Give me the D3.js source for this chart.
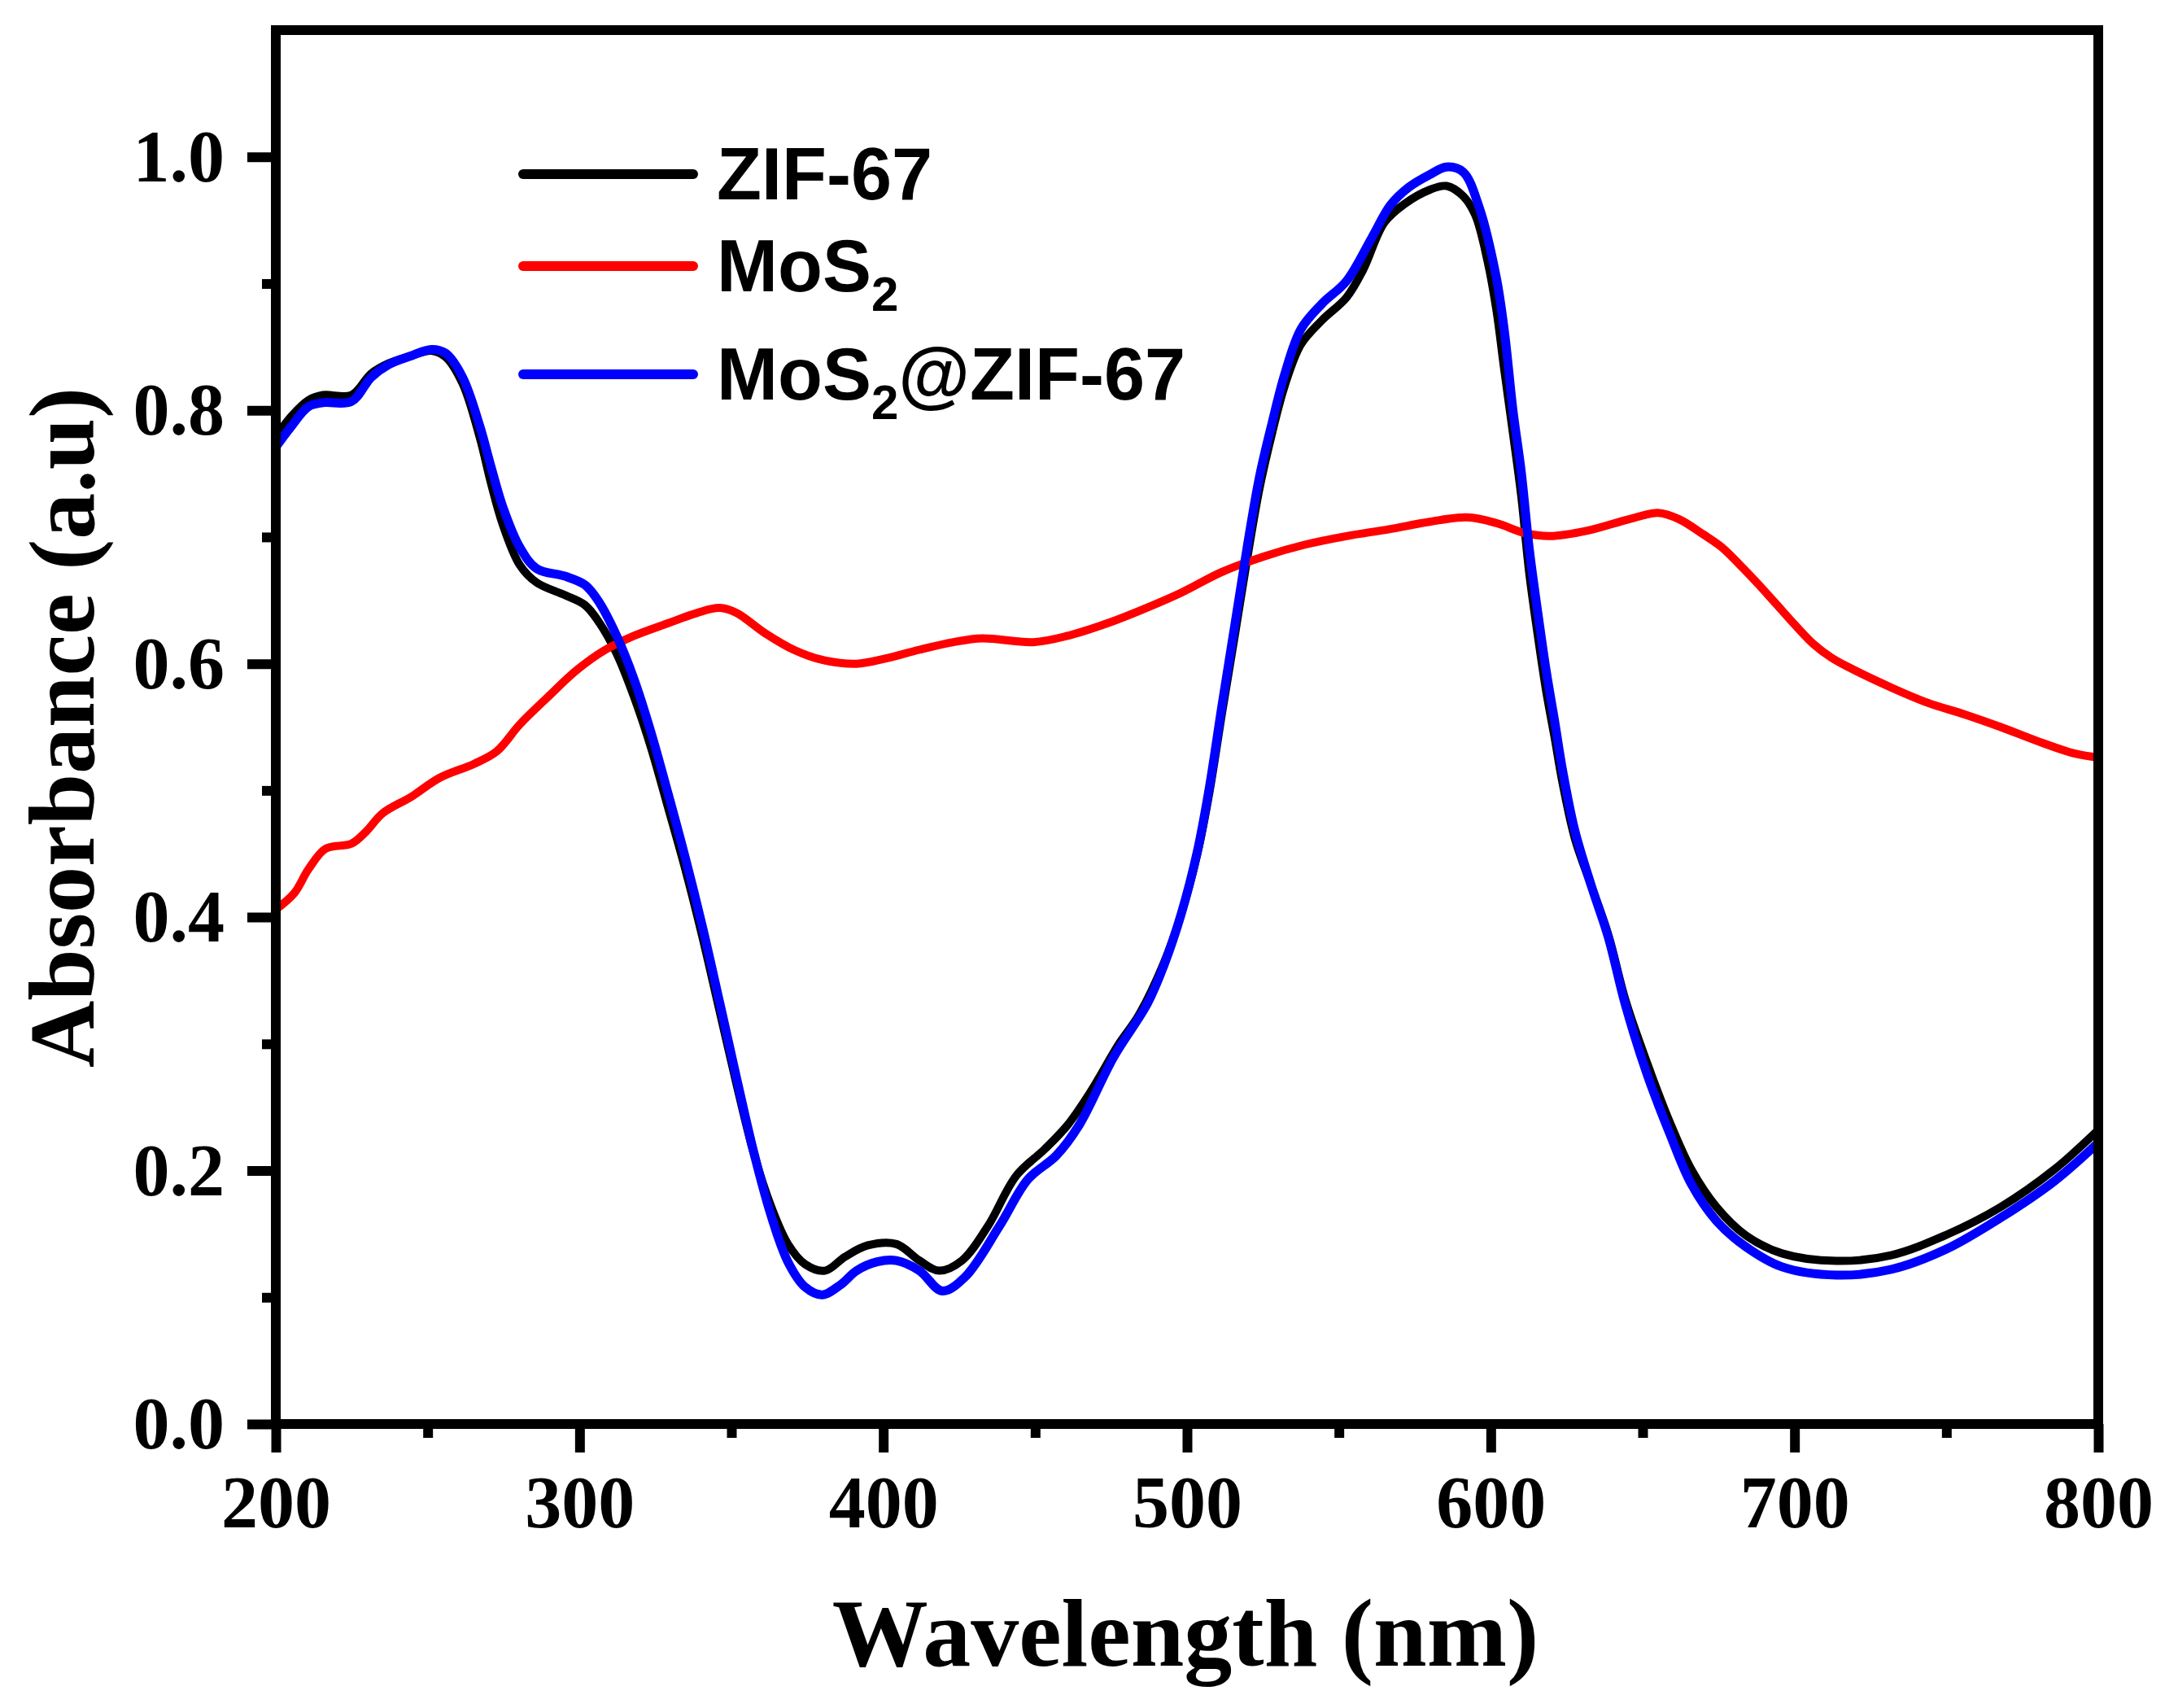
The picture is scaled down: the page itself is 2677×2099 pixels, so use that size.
<!DOCTYPE html>
<html>
<head>
<meta charset="utf-8">
<script src="https://cdn.jsdelivr.net/npm/d3@7"></script>
<style>
  body { margin: 0; background: #fff; }
  .tick-label { font-family: 'Liberation Serif', 'Times New Roman', serif; font-weight: bold; }
  .legend-label { font-family: 'Liberation Sans', Arial, sans-serif; font-weight: bold; }
</style>
</head>
<body>
<svg id="svg" width="2677" height="2099"></svg>
<script>
// ZIF-67 (black)
const zifWl = [200, 205, 210.8, 215.5, 224.9, 231.4, 237.1, 244.6, 251.2, 255.9, 261.5, 267.1, 270.9, 274.7, 280.3, 285.9, 295.3, 301.9, 306.6, 312.2, 317.9, 323.5, 329.2, 334.8, 340.4, 346.1, 351.7, 357.3, 363, 368.6, 374.3, 380.8, 387.4, 394.9, 404.3, 411.9, 418.4, 425.9, 434.4, 443.8, 453.2, 460.7, 468.2, 477.6, 484.2, 492.4, 497.9, 503.4, 507.4, 511.5, 515.7, 519.8, 523.9, 528, 532.1, 537.5, 544.4, 552.5, 558, 564.9, 571.7, 579.9, 585.4, 590.9, 594.9, 599, 601.8, 604.5, 607.3, 610, 612.7, 615.5, 618.2, 621, 623.7, 627.7, 633.2, 638.7, 644.4, 651.6, 658.8, 666, 674.4, 683.9, 695.9, 713.8, 731.8, 749.7, 767.7, 785.6, 800];
const zifAbs = [0.779, 0.795, 0.808, 0.812, 0.812, 0.829, 0.837, 0.843, 0.847, 0.842, 0.821, 0.779, 0.742, 0.710, 0.678, 0.664, 0.654, 0.646, 0.632, 0.608, 0.574, 0.534, 0.486, 0.438, 0.385, 0.326, 0.268, 0.214, 0.172, 0.142, 0.126, 0.121, 0.132, 0.141, 0.142, 0.129, 0.121, 0.129, 0.156, 0.196, 0.217, 0.236, 0.262, 0.300, 0.323, 0.364, 0.401, 0.450, 0.499, 0.561, 0.622, 0.683, 0.739, 0.782, 0.819, 0.852, 0.871, 0.889, 0.911, 0.948, 0.963, 0.974, 0.977, 0.969, 0.954, 0.917, 0.880, 0.831, 0.782, 0.733, 0.671, 0.622, 0.579, 0.542, 0.505, 0.462, 0.424, 0.386, 0.334, 0.284, 0.239, 0.201, 0.171, 0.149, 0.1346, 0.1287, 0.1332, 0.149, 0.171, 0.201, 0.232];

// MoS2 (red)
const mosWl = [200, 206.1, 210.8, 216.4, 224.9, 229.5, 235.2, 244.6, 254, 265.3, 272.8, 280.3, 289.7, 299.1, 308.5, 317.9, 329.2, 338.6, 346.1, 351.7, 361.1, 370.5, 379.9, 391.2, 400.6, 411.9, 423.1, 432.5, 449.4, 460.7, 473.9, 484.2, 497.9, 511.5, 525.2, 538.9, 552.5, 566.2, 579.9, 592.2, 601.8, 611.3, 619.5, 631.8, 645.5, 655, 662, 670, 676, 682, 688, 694, 700, 706, 712, 718, 732, 744, 756, 767.9, 779.9, 792.4, 800];
const mosAbs = [0.406, 0.419, 0.438, 0.454, 0.458, 0.467, 0.482, 0.495, 0.510, 0.521, 0.531, 0.552, 0.574, 0.595, 0.611, 0.622, 0.632, 0.640, 0.644, 0.640, 0.624, 0.611, 0.603, 0.600, 0.604, 0.611, 0.617, 0.620, 0.617, 0.622, 0.632, 0.6416, 0.6558, 0.6724, 0.6846, 0.694, 0.7007, 0.706, 0.712, 0.7155, 0.711, 0.703, 0.7007, 0.705, 0.714, 0.719, 0.714, 0.702, 0.692, 0.678, 0.663, 0.647, 0.631, 0.616, 0.605, 0.597, 0.581, 0.569, 0.560, 0.550, 0.539, 0.529, 0.526];

// MoS2@ZIF-67 (blue)
const compWl = [200, 205, 210.8, 215.5, 224.9, 231.4, 237.1, 244.6, 251.2, 255.9, 261.5, 267.1, 270.9, 274.7, 280.3, 285.9, 295.3, 301.9, 306.6, 312.2, 317.9, 323.5, 329.2, 334.8, 340.4, 346.1, 351.7, 357.3, 363, 368.6, 374.3, 379.9, 386, 391.2, 398, 404.3, 411.9, 419.4, 426.9, 438.2, 447.6, 457, 464.5, 475.7, 487, 492.4, 497.9, 503.4, 507.4, 511.5, 515.7, 519.8, 523.9, 528, 532.1, 537.5, 544.4, 552.5, 560.8, 567, 573, 579.9, 585.4, 590.9, 596.2, 601.8, 604.5, 607.3, 610, 612.7, 615.5, 618.2, 621, 623.7, 627.7, 633.2, 638.7, 644.4, 651.6, 658.8, 666, 674.4, 683.9, 695.9, 713.8, 731.8, 749.7, 767.7, 785.6, 800];
const compAbs = [0.771, 0.787, 0.803, 0.806, 0.807, 0.826, 0.836, 0.843, 0.848, 0.845, 0.826, 0.788, 0.755, 0.724, 0.692, 0.675, 0.669, 0.662, 0.648, 0.622, 0.588, 0.546, 0.497, 0.447, 0.393, 0.333, 0.273, 0.215, 0.165, 0.128, 0.108, 0.102, 0.110, 0.121, 0.128, 0.129, 0.121, 0.105, 0.116, 0.156, 0.193, 0.212, 0.236, 0.289, 0.332, 0.362, 0.401, 0.452, 0.503, 0.567, 0.630, 0.692, 0.748, 0.790, 0.828, 0.864, 0.884, 0.902, 0.936, 0.962, 0.976, 0.986, 0.992, 0.988, 0.960, 0.905, 0.862, 0.800, 0.752, 0.690, 0.640, 0.595, 0.555, 0.515, 0.468, 0.424, 0.384, 0.330, 0.275, 0.230, 0.1895, 0.160, 0.140, 0.124, 0.1175, 0.122, 0.1377, 0.1625, 0.1918, 0.222];

const xTicks = [200, 300, 400, 500, 600, 700, 800];
const xMinor = [250, 350, 450, 550, 650, 750];
const yTicks = [0, 0.2, 0.4, 0.6, 0.8, 1.0];
const yMinor = [0.1, 0.3, 0.5, 0.7, 0.9];

const seriesNames = ['ZIF-67', 'MoS2', 'MoS2@ZIF-67'];
const seriesColours = ['#000000', '#ff0000', '#0000ff'];

const config = {
  left: 339, right: 2579, top: 37, bottom: 1750,
  frameWidth: 12, lineWidth: 10,
  majorTick: 35, minorTick: 17,
};

const svg = d3.select('#svg');

const xScale = d3.scaleLinear()
  .domain([200, 800])
  .range([config.left, config.right]);

const yScale = d3.scaleLinear()
  .domain([0, 1.1])
  .range([config.bottom, config.top]);

// minor ticks first so majors sit on top
const xMinorG = svg.append('g')
  .attr('transform', `translate(0,${config.bottom})`)
  .call(d3.axisBottom(xScale).tickValues(xMinor).tickSize(config.minorTick).tickFormat(''));

const yMinorG = svg.append('g')
  .attr('transform', `translate(${config.left},0)`)
  .call(d3.axisLeft(yScale).tickValues(yMinor).tickSize(config.minorTick).tickFormat(''));

const xAxisG = svg.append('g')
  .attr('transform', `translate(0,${config.bottom})`)
  .call(d3.axisBottom(xScale).tickValues(xTicks).tickSize(config.majorTick));

const yAxisG = svg.append('g')
  .attr('transform', `translate(${config.left},0)`)
  .call(d3.axisLeft(yScale).tickValues(yTicks).tickSize(config.majorTick).tickFormat(d3.format('.1f')));

[xMinorG, yMinorG, xAxisG, yAxisG].forEach(g => {
  g.select('path.domain').remove();
  g.selectAll('.tick line').attr('stroke', '#000').attr('stroke-width', config.frameWidth);
});

xAxisG.selectAll('.tick text')
  .attr('class', 'tick-label')
  .attr('y', 127)
  .attr('dy', null)
  .style('font-size', '90px')
  .attr('fill', '#000');

yAxisG.selectAll('.tick text')
  .attr('class', 'tick-label')
  .attr('x', -63)
  .attr('dy', '0.33em')
  .style('font-size', '90px')
  .attr('fill', '#000');

// curves
const line = d3.line()
  .x(d => xScale(d[0]))
  .y(d => yScale(d[1]))
  .curve(d3.curveCatmullRom.alpha(0.5));

const series = [
  d3.zip(zifWl, zifAbs),
  d3.zip(mosWl, mosAbs),
  d3.zip(compWl, compAbs),
];

svg.append('g')
  .selectAll('path')
  .data(series)
  .join('path')
  .attr('d', line)
  .attr('fill', 'none')
  .attr('stroke', (d, i) => seriesColours[i])
  .attr('stroke-width', (d, i) => i == 2 ? 11 : config.lineWidth)
  .attr('stroke-linejoin', 'round');

// frame
svg.append('rect')
  .attr('x', config.left)
  .attr('y', config.top)
  .attr('width', config.right - config.left)
  .attr('height', config.bottom - config.top)
  .attr('fill', 'none')
  .attr('stroke', '#000')
  .attr('stroke-width', config.frameWidth);

// axis titles
svg.append('text')
  .attr('class', 'tick-label')
  .attr('x', 1457)
  .attr('y', 2047)
  .attr('text-anchor', 'middle')
  .style('font-size', '118px')
  .text('Wavelength (nm)');

svg.append('text')
  .attr('class', 'tick-label')
  .attr('transform', 'translate(115,894) rotate(-90)')
  .attr('text-anchor', 'middle')
  .style('font-size', '114px')
  .text('Absorbance (a.u)');

// legend
const legendY = [214, 327, 460];
const legend = svg.append('g');

legend.selectAll('line')
  .data(seriesNames)
  .join('line')
  .attr('x1', 643)
  .attr('x2', 852)
  .attr('y1', (d, i) => legendY[i])
  .attr('y2', (d, i) => legendY[i])
  .attr('stroke', (d, i) => seriesColours[i])
  .attr('stroke-width', 12)
  .attr('stroke-linecap', 'round');

legend.selectAll('text')
  .data(seriesNames)
  .join('text')
  .attr('class', 'legend-label')
  .attr('x', 881)
  .attr('y', (d, i) => legendY[i] + 31)
  .style('font-size', '90px')
  .each(function(d) {
    let t = d3.select(this);
    let parts = d.split('2');
    if (parts.length == 1) { t.text(d); return; }
    t.append('tspan').text(parts[0]);
    t.append('tspan').text('2').attr('dy', 24).style('font-size', '60px');
    if (parts[1]) t.append('tspan').text(parts[1]).attr('dy', -24);
  });
</script>
</body>
</html>
